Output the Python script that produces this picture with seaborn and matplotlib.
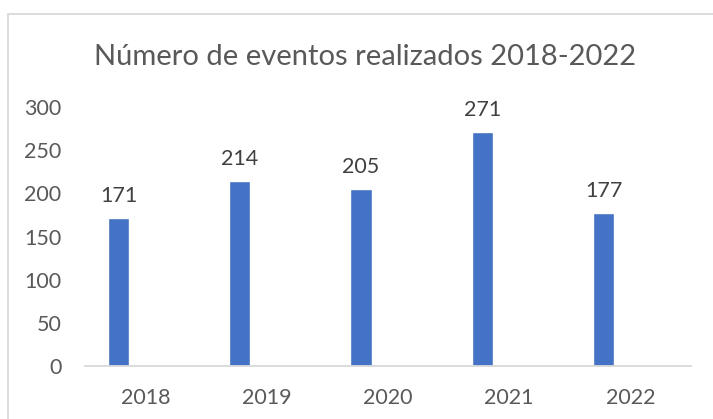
import matplotlib
matplotlib.use("Agg")
import matplotlib.pyplot as plt
import seaborn as sns
import pandas as pd
import numpy as np
from matplotlib.patches import Rectangle

years = ["2018", "2019", "2020", "2021", "2022"]
eventos = [171, 214, 205, 271, 177]
title = "Número de eventos realizados 2018-2022"
yticks = [0, 50, 100, 150, 200, 250, 300]

sns.set_theme(style="white")
plt.rcParams['font.family'] = ['Lato', 'DejaVu Sans']

df = pd.DataFrame({
    "Ano": years + years,
    "Valor": eventos + [np.nan] * len(years),
    "Serie": ["Eventos"] * len(years) + ["_vazio"] * len(years),
})

W, H = 713, 419
fig = plt.figure(figsize=(W / 100, H / 100), dpi=100)
ax = fig.add_axes([85 / W, 53 / H, 606 / W, 259 / H])

sns.barplot(data=df, x="Ano", y="Valor", hue="Serie",
            hue_order=["Eventos", "_vazio"], order=years,
            palette=["#4472C4", "#4472C4"], width=0.888, gap=0.606,
            legend=False, ax=ax, saturation=1, errorbar=None)

ax.set_ylim(0, 300)
ax.set_xlim(-0.5, len(years) - 0.5)
ax.set_yticks(yticks)
ax.set_xlabel("")
ax.set_ylabel("")

for s in ["top", "right", "left"]:
    ax.spines[s].set_visible(False)
ax.spines["bottom"].set_color("#D9D9D9")
ax.spines["bottom"].set_linewidth(1.3)

ax.tick_params(axis="y", length=0, pad=17, labelsize=15.5, labelcolor="#595959")
ax.tick_params(axis="x", which="major", length=0, pad=16, labelsize=15.5, labelcolor="#595959")
ax.set_xticks(np.arange(-0.5, len(years), 1.0), minor=True)
ax.tick_params(axis="x", which="minor", length=5, width=1.3, color="#D9D9D9", direction="out")

ax.bar_label(ax.containers[0], labels=[str(v) for v in eventos], padding=9,
             fontsize=15.5, color="#404040")

fig.text(365 / W, 1 - 57 / H, title, ha="center", va="center",
         fontsize=21, color="#595959")

fig.patches.append(Rectangle((8 / W, -0.1), 1.2, (H - 14) / H + 0.1,
                             transform=fig.transFigure, fill=False,
                             edgecolor="#D9D9D9", linewidth=1.3))

fig.savefig("out.png", dpi=100)
